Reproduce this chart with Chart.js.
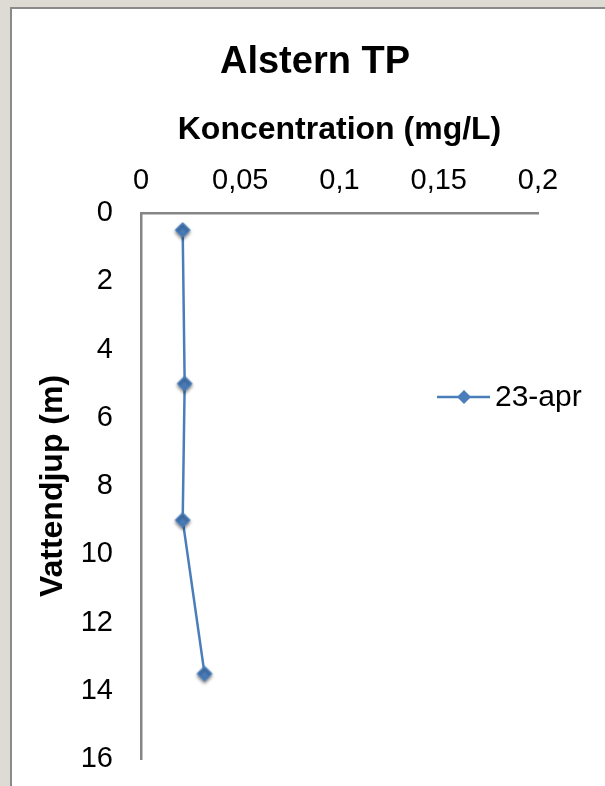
<!DOCTYPE html>
<html>
<head>
<meta charset="utf-8">
<script src="https://cdn.jsdelivr.net/npm/chart.js@4"></script>
<style>
    body { margin: 0; background: #dedbd4; width: 605px; height: 786px; overflow: hidden; }
    #ram {
        position: absolute; left: 10px; top: 7px;
        width: 593px; height: 777px;
        border-left: 2px solid #8a8a8a; border-top: 2px solid #8a8a8a;
        background: #ffffff;
    }
    canvas { display: block; }
</style>
</head>
<body>
<div id="ram"><canvas id="diagram" width="593" height="777"></canvas></div>
<script>
(function() {
    'use strict';

    // Mätvärden: djup (m) och halt (mg/L)
    const djup = [0.5, 5, 9, 13.5];
    const halt = [0.021, 0.022, 0.021, 0.032];
    const serieNamn = '23-apr';
    const rubrik = 'Alstern TP';
    const xTickVarden = [0, 0.05, 0.1, 0.15, 0.2];
    const xTickEtiketter = ['0', '0,05', '0,1', '0,15', '0,2'];
    const yTickVarden = [0, 2, 4, 6, 8, 10, 12, 14, 16];
    const yTickEtiketter = ['0', '2', '4', '6', '8', '10', '12', '14', '16'];

    const FONT = '"Liberation Sans", Arial, sans-serif';
    const BLA = '#4a7ebb';
    const AXEL = '#868686';

    function etikett(varden, etiketter, v) {
        for (let i = 0; i < varden.length; i++) {
            if (Math.abs(varden[i] - v) < 1e-9) return etiketter[i];
        }
        return '';
    }

    // Romb med mjuk skugga som punktsymbol
    function skapaMarkor() {
        const c = document.createElement('canvas');
        c.width = 24;
        c.height = 24;
        const g = c.getContext('2d');
        g.shadowColor = 'rgba(0,0,0,0.45)';
        g.shadowBlur = 3.5;
        g.shadowOffsetY = 2;
        g.fillStyle = BLA;
        g.strokeStyle = BLA;
        g.lineJoin = 'round';
        g.lineWidth = 1.5;
        g.beginPath();
        g.moveTo(12, 5);
        g.lineTo(19, 12);
        g.lineTo(12, 19);
        g.lineTo(5, 12);
        g.closePath();
        g.fill();
        g.stroke();
        return c;
    }

    const punkter = [];
    for (let i = 0; i < djup.length; i++) {
        punkter.push({ x: halt[i], y: djup[i] });
    }

    // Rubrik och förklaring ritas för hand (förklaringen ligger över diagramytan)
    const extraText = {
        id: 'extraText',
        afterDraw: function(chart) {
            const ctx = chart.ctx;
            const ds = chart.data.datasets[0];
            ctx.save();

            ctx.fillStyle = '#000';
            ctx.font = 'bold 38px ' + FONT;
            ctx.textAlign = 'center';
            ctx.textBaseline = 'middle';
            ctx.fillText(rubrik, 303, 54);

            const y = 388;
            ctx.strokeStyle = ds.borderColor;
            ctx.lineWidth = 2.5;
            ctx.beginPath();
            ctx.moveTo(425, y);
            ctx.lineTo(478, y);
            ctx.stroke();
            ctx.fillStyle = ds.borderColor;
            ctx.beginPath();
            ctx.moveTo(452, y - 7);
            ctx.lineTo(459, y);
            ctx.lineTo(452, y + 7);
            ctx.lineTo(445, y);
            ctx.closePath();
            ctx.fill();
            ctx.fillStyle = '#000';
            ctx.font = '30px ' + FONT;
            ctx.textAlign = 'left';
            ctx.fillText(ds.label, 483, y + 1);
            ctx.restore();
        }
    };

    new Chart(document.getElementById('diagram'), {
        type: 'scatter',
        data: {
            datasets: [{
                label: serieNamn,
                data: punkter,
                showLine: true,
                borderColor: BLA,
                borderWidth: 2.5,
                pointStyle: skapaMarkor(),
                pointRadius: 8,
                pointHoverRadius: 8
            }]
        },
        options: {
            responsive: false,
            animation: false,
            layout: { padding: { top: 90, left: 0, right: 67, bottom: 27 } },
            plugins: {
                legend: { display: false },
                tooltip: { enabled: false },
                title: { display: false }
            },
            scales: {
                x: {
                    type: 'linear',
                    position: 'top',
                    min: 0,
                    max: 0.2,
                    ticks: {
                        stepSize: 0.05,
                        padding: 15,
                        color: '#000',
                        font: { family: FONT, size: 29 },
                        callback: function(v) { return etikett(xTickVarden, xTickEtiketter, v); }
                    },
                    grid: { drawOnChartArea: false, drawTicks: false },
                    border: { display: true, color: AXEL, width: 2.5 },
                    title: {
                        display: true,
                        text: 'Koncentration (mg/L)',
                        color: '#000',
                        font: { family: FONT, size: 32, weight: 'bold' },
                        padding: { top: 12, bottom: 0 }
                    },
                    afterFit: function(scale) { scale.height = 114; }
                },
                y: {
                    type: 'linear',
                    reverse: true,
                    min: 0,
                    max: 16,
                    ticks: {
                        stepSize: 2,
                        padding: 28,
                        color: '#000',
                        font: { family: FONT, size: 29 },
                        callback: function(v) { return etikett(yTickVarden, yTickEtiketter, v); }
                    },
                    grid: { drawOnChartArea: false, drawTicks: false },
                    border: { display: true, color: AXEL, width: 2.5 },
                    title: {
                        display: true,
                        text: 'Vattendjup (m)',
                        color: '#000',
                        font: { family: FONT, size: 32, weight: 'bold' },
                        padding: { top: 22, bottom: 10 }
                    },
                    afterFit: function(scale) {
                        scale.width = 129;
                        // etikettmarginalen styrs av layout.padding
                        scale.paddingTop = 0;
                        scale.paddingBottom = 0;
                    }
                }
            }
        },
        plugins: [extraText]
    });
})();
</script>
</body>
</html>
